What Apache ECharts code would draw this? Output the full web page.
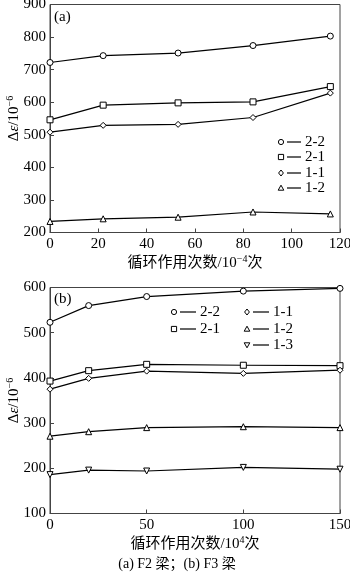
<!DOCTYPE html>
<html><head><meta charset="utf-8">
<script src="https://cdn.jsdelivr.net/npm/echarts@6/dist/echarts.min.js"></script>
<style>html,body{margin:0;padding:0;background:#fff}#c{width:350px;height:573px}</style>
</head><body><div id="c"></div>
<script>
// ---- data ----
const xA = [0, 22, 53, 84, 116];
const namesA = ['2-2', '2-1', '1-1', '1-2'];
const a22 = [722, 743, 751, 774, 803];
const a21 = [546, 591, 598, 601, 648];
const a11 = [508, 529, 532, 553, 628];
const a12 = [234, 242, 247, 263, 257];

const xB = [0, 20, 50, 100, 150];
const namesB = ['2-2', '2-1', '1-1', '1-2', '1-3'];
const b22 = [523, 560, 580, 592, 598];
const b21 = [393, 416, 430, 428, 427];
const b11 = [375, 399, 415, 410, 417];
const b12 = [271, 281, 290, 292, 290];
const b13 = [186, 196, 194, 202, 198];

const xTicksA = [0, 20, 40, 60, 80, 100, 120];
const yTicksA = [200, 300, 400, 500, 600, 700, 800, 900];
const xTicksB = [0, 50, 100, 150];
const yTicksB = [100, 200, 300, 400, 500, 600];

const symA = ['circle', 'rect', 'diamond', 'triangle'];
const symB = ['circle', 'rect', 'diamond', 'triangle', 'invtriangle'];

// ---- styles ----
const SERIF = '"Liberation Serif","Times New Roman","Noto Sans CJK SC",serif';
const AX = '#444';
const pair = (xs, ys) => xs.map((x, i) => [x, ys[i]]);

function sym(t) {
  if (t === 'invtriangle') return {symbol: 'triangle', rot: 180};
  return {symbol: t, rot: 0};
}

function mkSeries(name, data, t, xi, yi) {
  const s = sym(t);
  return {
    name: name, type: 'line', xAxisIndex: xi, yAxisIndex: yi,
    data: data, symbol: s.symbol, symbolRotate: s.rot, symbolSize: 6,
    showAllSymbol: true,
    lineStyle: {color: '#000', width: 1.2},
    itemStyle: {color: '#fff', borderColor: '#000', borderWidth: 1},
    z: 3, animation: false
  };
}

function xAxisCfg(gi, ticks, nameRich) {
  return {
    gridIndex: gi, type: 'value', min: ticks[0], max: ticks[ticks.length - 1],
    interval: ticks[1] - ticks[0],
    axisLine: {show: true, lineStyle: {color: AX, width: 1}},
    axisTick: {show: true, inside: true, length: 4, lineStyle: {color: AX}},
    axisLabel: {fontFamily: SERIF, fontSize: 15, color: '#000', margin: 4},
    splitLine: {show: false},
    name: nameRich, nameLocation: 'middle', nameGap: 22, nameMoveOverlap: false,
    nameTextStyle: {fontFamily: SERIF, fontSize: 15, color: '#000',
      rich: {
        n: {fontFamily: SERIF, fontSize: 15, color: '#000'},
        s: {fontFamily: SERIF, fontSize: 10, color: '#000', padding: [0, 0, 8, 0]}
      }}
  };
}
function yAxisCfg(gi, ticks) {
  return {
    gridIndex: gi, type: 'value', min: ticks[0], max: ticks[ticks.length - 1],
    interval: ticks[1] - ticks[0],
    axisLine: {show: true, lineStyle: {color: AX, width: 1}},
    axisTick: {show: true, inside: true, length: 4, lineStyle: {color: AX}},
    axisLabel: {fontFamily: SERIF, fontSize: 15, color: '#000', margin: 4},
    splitLine: {show: false},
    name: '{n|Δ}{i|ε}{n|/10}{s|−6}', nameLocation: 'middle', nameGap: 27, nameRotate: 90,
    nameMoveOverlap: false,
    nameTextStyle: {fontFamily: SERIF, fontSize: 15, color: '#000',
      rich: {
        n: {fontFamily: SERIF, fontSize: 15, color: '#000'},
        i: {fontFamily: SERIF, fontSize: 15, color: '#000', fontStyle: 'italic'},
        s: {fontFamily: SERIF, fontSize: 10, color: '#000', padding: [0, 0, 8, 0]}
      }}
  };
}

// legend graphics (not data marks)
function legendSymbol(t, x, y) {
  const st = {fill: '#fff', stroke: '#000', lineWidth: 1};
  if (t === 'circle') return {type: 'circle', shape: {cx: x, cy: y, r: 2.6}, style: st};
  if (t === 'rect') return {type: 'rect', shape: {x: x - 2.6, y: y - 2.6, width: 5.2, height: 5.2}, style: st};
  if (t === 'diamond') return {type: 'polygon', shape: {points: [[x, y - 3], [x + 2.4, y], [x, y + 3], [x - 2.4, y]]}, style: st};
  if (t === 'triangle') return {type: 'polygon', shape: {points: [[x, y - 2.8], [x + 2.8, y + 2.2], [x - 2.8, y + 2.2]]}, style: st};
  return {type: 'polygon', shape: {points: [[x, y + 2.8], [x + 2.8, y - 2.2], [x - 2.8, y - 2.2]]}, style: st};
}
function legendItem(name, t, x, y, lineLen, textGap) {
  return [
    legendSymbol(t, x, y),
    {type: 'line', shape: {x1: x + 6, y1: y, x2: x + 6 + lineLen, y2: y}, style: {stroke: '#000', lineWidth: 1.2}},
    {type: 'text', x: x + 6 + lineLen + textGap, y: y, style: {text: name, font: '15px ' + SERIF, fill: '#000', verticalAlign: 'middle', textAlign: 'left'}}
  ];
}

const graphics = [];
const legAy = [142, 157, 173, 188];
namesA.forEach((n, i) => graphics.push(...legendItem(n, symA[i], 281, legAy[i], 14, 4)));
const legB = [[174, 312], [174, 329], [247, 312], [247, 329], [247, 345]];
namesB.forEach((n, i) => graphics.push(...legendItem(n, symB[i], legB[i][0], legB[i][1], 16, 4)));
graphics.push({type: 'text', x: 54, y: 17, style: {text: '(a)', font: '15px ' + SERIF, fill: '#000', verticalAlign: 'middle'}});
graphics.push({type: 'text', x: 54, y: 299, style: {text: '(b)', font: '15px ' + SERIF, fill: '#000', verticalAlign: 'middle'}});
graphics.push({type: 'text', x: 177, y: 564, style: {text: '(a) F2 梁；(b) F3 梁', font: '14px ' + SERIF, fill: '#000', verticalAlign: 'middle', textAlign: 'center'}});

const seriesA = [a22, a21, a11, a12];
const seriesB = [b22, b21, b11, b12, b13];

const option = {
  backgroundColor: '#fff',
  animation: false,
  grid: [
    {left: 50, top: 4.5, width: 290, height: 228, show: true, borderColor: AX, borderWidth: 1, backgroundColor: 'transparent', containLabel: false, outerBoundsMode: 'none'},
    {left: 50, top: 287.5, width: 290, height: 226, show: true, borderColor: AX, borderWidth: 1, backgroundColor: 'transparent', containLabel: false, outerBoundsMode: 'none'}
  ],
  xAxis: [
    xAxisCfg(0, xTicksA, '{n|循环作用次数/10}{s|−4}{n|次}'),
    xAxisCfg(1, xTicksB, '{n|循环作用次数/10}{s|4}{n|次}')
  ],
  yAxis: [yAxisCfg(0, yTicksA), yAxisCfg(1, yTicksB)],
  series: [
    ...seriesA.map((d, i) => mkSeries(namesA[i], pair(xA, d), symA[i], 0, 0)),
    ...seriesB.map((d, i) => mkSeries(namesB[i], pair(xB, d), symB[i], 1, 1))
  ],
  graphic: graphics
};
const chart = echarts.init(document.getElementById('c'), null, {renderer: 'canvas'});
chart.setOption(option);
</script></body></html>
